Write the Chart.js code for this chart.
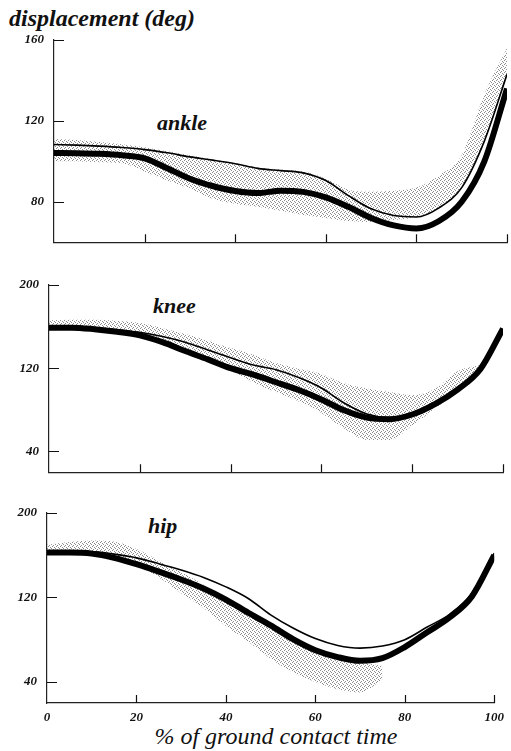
<!DOCTYPE html>
<html><head><meta charset="utf-8">
<script src="https://cdn.jsdelivr.net/npm/chart.js@4.4.1/dist/chart.umd.min.js"></script>
<style>
html,body{margin:0;padding:0;background:#fff;}
body{width:511px;height:751px;position:relative;overflow:hidden;font-family:"Liberation Serif","DejaVu Serif",serif;}
canvas{position:absolute;left:0;}
.t{position:absolute;white-space:nowrap;font-style:italic;font-weight:bold;color:#111;line-height:1;}
</style></head><body>
<div class="t" style="left:9px;top:6px;font-size:24px;">displacement (deg)</div>
<div class="t" style="left:157px;top:112px;font-size:22px;">ankle</div>
<div class="t" style="left:153px;top:295px;font-size:22px;">knee</div>
<div class="t" style="left:148px;top:515px;font-size:22px;">hip</div>
<div class="t" style="left:49px;width:454px;text-align:center;top:724px;font-size:24px;font-weight:normal;">% of ground contact time</div>
<canvas id="c1" width="511" height="260" style="top:0px"></canvas>
<canvas id="c2" width="511" height="230" style="top:260px"></canvas>
<canvas id="c3" width="511" height="261" style="top:490px"></canvas>
<script>
// ---------- data ----------
const pct = [0,5,10,15,20,25,30,35,40,45,50,55,60,65,70,75,80,85,90,95,100];
const xTicks = [0,20,40,60,80,100];

const ankleTicks = [80,120,160];
const ankleThin  = [108.3,108,107.5,106.8,105.8,104.2,102.2,100.6,98.8,96.5,95.4,94.3,90.5,83,76.5,73.2,72.5,77,87,110,143];
const ankleThick = [104.1,104,103.7,103,101.5,96.6,91.4,87.8,85.3,84.3,85.5,84.9,82.2,77.5,72,68.3,66.8,70.5,80,100,136];
const ankleBandHi = [111,110.5,109.5,108.5,107,105,103,101,99,97,96,95,91.5,86,85,85.5,87,93,103,133,156];
const ankleBandLo = [100,100,99.5,99,95,90.5,86.5,81.5,79,77.5,75.5,73.5,72,70.5,70,71,72.5,77,87,110,143];

const kneeTicks = [40,120,200];
const kneeThin  = [159,159,158.5,157,154.5,150.5,145,137.5,130,123,118.5,111,101,86.5,76,72.5,76.5,87,101,120,158];
const kneeThick = [159,159,157.5,155,151.5,145,136.5,128.5,120,113.8,106.5,99,90,79.5,72.5,71,75.5,85.5,99.5,119,158];
const kneeBandHi = [166,166.5,166.5,165.5,163.5,158.5,153,146.5,139.5,133,125,119.5,114.5,105.5,100.5,97,94,100,117,123,null];
const kneeBandLo = [159,159,158,156,152,146,138,129,118,106,97,88,77,62,51,51,65,81,98,118,null];

const hipTicks = [40,120,200];
const hipThin  = [163,163.5,163.5,161,157.5,152,146,139,130,119,103.5,91,81,74.5,72,74,80,92,104,124,162];
const hipThick = [162.5,162.5,161.5,157.5,151.5,144.5,137,128.5,118,105.5,93.5,80.5,70,63.5,60,62.5,73,87,101,121,160];
const hipBandHi = [170,172.5,174,173,166,155,144,132,118,106,93,81,71,64,59,55,null,null,null,null,null];
const hipBandLo = [162,162,161,157,149,139,124,110,93,78,62,49,40,33,30,42,null,null,null,null,null];

// ---------- helpers ----------
const FONT = '"Liberation Serif","DejaVu Serif",serif';
function pts(arr){ return pct.map((x,i)=>({x:x, y:arr[i]})); }
function stipple(ctx){
  const c=document.createElement('canvas'); c.width=4; c.height=4;
  const g=c.getContext('2d'); g.fillStyle='#8c8c8c';
  [[0,0],[2,1],[1,3],[3,2]].forEach(p=>g.fillRect(p[0],p[1],1,1));
  return ctx.createPattern(c,'repeat');
}
const inwardTicks = {
  id:'inwardTicks',
  afterDraw(chart, args, opts){
    const ctx=chart.ctx, a=chart.chartArea, x=chart.scales.x, y=chart.scales.y;
    ctx.save(); ctx.strokeStyle='#111'; ctx.lineWidth=1.2; ctx.beginPath();
    xTicks.forEach(v=>{ if(v===0) return; const px=Math.round(x.getPixelForValue(v))+0.5; ctx.moveTo(px,a.bottom); ctx.lineTo(px,a.bottom-8); });
    opts.yTicks.forEach(v=>{ const py=Math.round(y.getPixelForValue(v))+0.5; ctx.moveTo(a.left,py); ctx.lineTo(a.left+10,py); });
    ctx.stroke(); ctx.restore();
  }
};

function makeChart(id, thin, thick, hi, lo, yMin, yMax, yTicks, pad, yWidth, showX){
  const canvas=document.getElementById(id);
  const ctx=canvas.getContext('2d');
  const pat=stipple(ctx);
  return new Chart(ctx,{
    type:'line',
    data:{datasets:[
      {data:pts(thick), borderColor:'#000', borderWidth:6, pointRadius:0, fill:false, cubicInterpolationMode:'monotone'},
      {data:pts(thin), borderColor:'#000', borderWidth:1.6, pointRadius:0, fill:false, cubicInterpolationMode:'monotone'},
      {data:pts(hi), borderWidth:0, borderColor:'rgba(0,0,0,0)', backgroundColor:pat, pointRadius:0, fill:'+1', cubicInterpolationMode:'monotone'},
      {data:pts(lo), borderWidth:0, borderColor:'rgba(0,0,0,0)', pointRadius:0, fill:false, cubicInterpolationMode:'monotone'}
    ]},
    options:{
      responsive:false, animation:false, events:[],
      layout:{padding:pad, autoPadding:false},
      plugins:{legend:{display:false}, tooltip:{enabled:false}, title:{display:false}, inwardTicks:{yTicks:yTicks}},
      scales:{
        x:{type:'linear', min:0, max:100,
           afterBuildTicks:s=>{ s.ticks = xTicks.map(v=>({value:v})); },
           afterFit:s=>{ s.height = showX ? 48 : 0; },
           grid:{display:true, drawOnChartArea:false, drawTicks:false},
           border:{display:true, color:'#222', width:1.2},
           ticks:{display:showX, padding:7, color:'#111', font:{family:FONT, style:'italic', weight:'bold', size:13}, maxRotation:0}
        },
        y:{type:'linear', min:yMin, max:yMax,
           afterBuildTicks:s=>{ s.ticks = yTicks.map(v=>({value:v})); },
           afterFit:s=>{ s.width = yWidth; },
           grid:{display:true, drawOnChartArea:false, drawTicks:false},
           border:{display:true, color:'#222', width:1.2},
           ticks:{padding:10, color:'#111', font:{family:FONT, style:'italic', weight:'bold', size:13}}
        }
      }
    },
    plugins:[inwardTicks]
  });
}

makeChart('c1', ankleThin, ankleThick, ankleBandHi, ankleBandLo, 60, 160, ankleTicks, {top:40,bottom:11,left:0,right:4}, 54, false);
makeChart('c2', kneeThin, kneeThick, kneeBandHi, kneeBandLo, 20, 200, kneeTicks, {top:25,bottom:8,left:0,right:8}, 49, false);
makeChart('c3', hipThin, hipThick, hipBandHi, hipBandLo, 20, 200, hipTicks, {top:23,bottom:0,left:0,right:10}, 47, true);
</script>
</body></html>
